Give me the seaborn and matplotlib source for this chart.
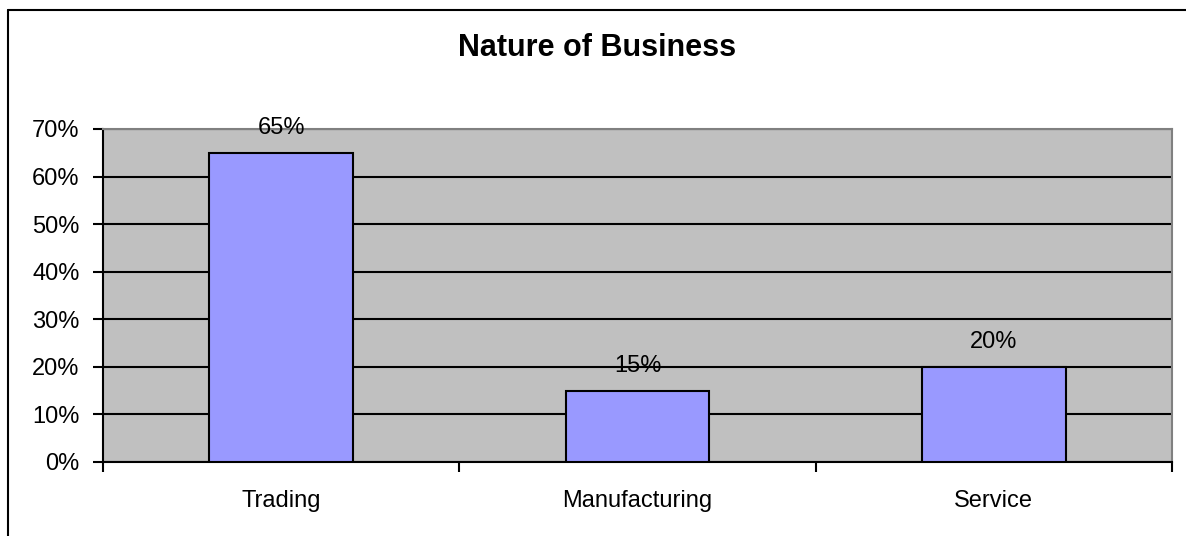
import pandas as pd
import matplotlib.pyplot as plt
import seaborn as sns
from matplotlib.ticker import PercentFormatter

# Chart data
categories = ['Trading', 'Manufacturing', 'Service']
shares = [65, 15, 20]

df = pd.DataFrame({'Business': categories, 'Share': shares})

sns.set_style('white')
plt.rcParams['font.family'] = ['Liberation Sans', 'DejaVu Sans']
plt.rcParams['text.color'] = 'black'
plt.rcParams['xtick.color'] = 'black'
plt.rcParams['ytick.color'] = 'black'

fig = plt.figure(figsize=(11.86, 5.36), dpi=100)
ax = fig.add_axes([103 / 1186, 74 / 536, (1172 - 103) / 1186, (462 - 129) / 536])

sns.barplot(data=df, x='Business', y='Share', color='#9999FF', saturation=1,
            width=0.404, edgecolor='black', linewidth=1.5, ax=ax, zorder=3)

ax.set_facecolor('#C0C0C0')
ax.set_ylim(0, 70)
ax.set_xlim(-0.5, 2.5)
ax.set_yticks(range(0, 71, 10))
ax.yaxis.set_major_formatter(PercentFormatter(decimals=0))
ax.grid(axis='y', color='black', linewidth=1.5, zorder=1)
ax.set_axisbelow(True)

# category boundaries as major ticks, labels on minor ticks
ax.set_xticks([-0.5, 0.5, 1.5, 2.5])
ax.set_xticklabels([])
ax.set_xticks([0, 1, 2], minor=True)
ax.set_xticklabels(categories, minor=True)
ax.tick_params(axis='x', which='major', direction='out', length=7, width=1.5, color='black', bottom=True)
ax.tick_params(axis='x', which='minor', length=0, pad=20, labelsize=17)
ax.tick_params(axis='y', direction='out', length=7, width=1.5, color='black', left=True, pad=10, labelsize=17)

ax.set_xlabel('')
ax.set_ylabel('')

for side in ['left', 'bottom']:
    ax.spines[side].set_color('black')
    ax.spines[side].set_linewidth(1.5)
for side in ['top', 'right']:
    ax.spines[side].set_color('#808080')
    ax.spines[side].set_linewidth(1.5)

for i, v in enumerate(shares):
    ax.annotate(f'{v}%', (i, v), xytext=(0, 18), textcoords='offset points',
                ha='center', va='center', fontsize=17, zorder=4)

fig.text(597 / 1186, 1 - 48 / 536, 'Nature of Business', ha='center', va='center',
         fontsize=22, fontweight='bold')

# chart frame (left and top visible)
fig.add_artist(plt.Line2D([8 / 1186, 8 / 1186], [0, 1 - 10 / 536], color='black', linewidth=1.5))
fig.add_artist(plt.Line2D([8 / 1186, 1], [1 - 10 / 536, 1 - 10 / 536], color='black', linewidth=1.5))

plt.savefig('out.png', dpi=100)
